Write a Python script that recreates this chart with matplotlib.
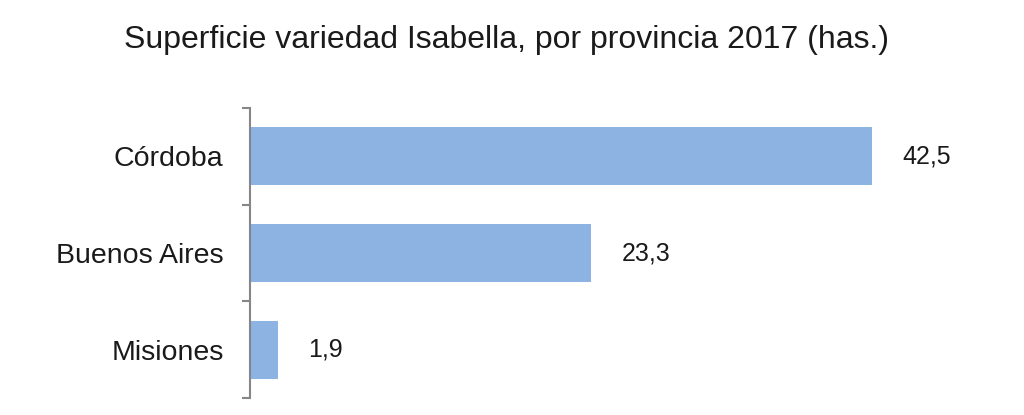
import matplotlib
matplotlib.use("Agg")
from matplotlib import pyplot as plt
from matplotlib.ticker import FixedLocator

provincias = ["Córdoba", "Buenos Aires", "Misiones"]
superficie = [42.5, 23.3, 1.9]
etiquetas = ["42,5", "23,3", "1,9"]

plt.rcParams["font.family"] = ["Liberation Sans", "DejaVu Sans"]

fig = plt.figure(figsize=(10.24, 4.15), dpi=100)
ax = fig.add_axes([250 / 1024, 1 - 398 / 415, 732 / 1024, 290 / 415])

ypos = list(range(len(provincias)))
bars = ax.barh(ypos, superficie, height=0.6, color="#8DB3E2")
ax.set_ylim(len(provincias) - 0.5, -0.5)
ax.set_xlim(0, 50)

for b, txt in zip(bars, etiquetas):
    ax.annotate(txt, (b.get_width(), b.get_y() + b.get_height() / 2),
                xytext=(22, 0), textcoords="offset points",
                va="center", ha="left", fontsize=18, color="#1a1a1a")

ax.set_yticks(ypos)
ax.set_yticklabels(provincias, fontsize=20.5, color="#1a1a1a")
ax.yaxis.set_minor_locator(FixedLocator([-0.5, 0.5, 1.5, 2.5]))
ax.tick_params(axis="y", which="major", length=0, pad=19)
ax.tick_params(axis="y", which="minor", length=6, width=1.5, color="#868686")
ax.tick_params(axis="x", bottom=False, labelbottom=False)
for s in ["top", "right", "bottom"]:
    ax.spines[s].set_visible(False)
ax.spines["left"].set_color("#868686")
ax.spines["left"].set_linewidth(1.5)

fig.text(507 / 1024, 1 - 40 / 415, "Superficie variedad Isabella, por provincia 2017 (has.)",
         ha="center", va="center", fontsize=23, color="#1a1a1a")

plt.savefig("out.png", dpi=100)
